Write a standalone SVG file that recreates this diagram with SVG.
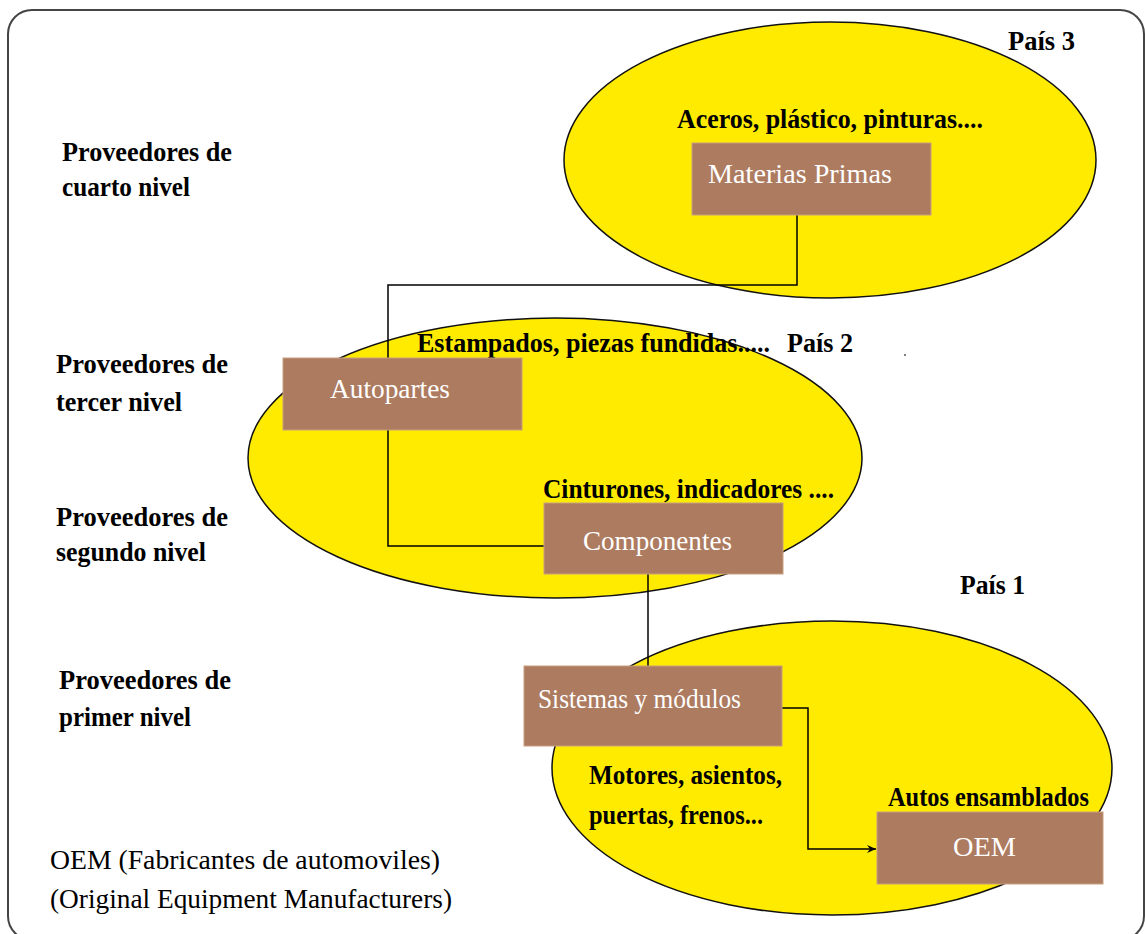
<svg xmlns="http://www.w3.org/2000/svg" width="1145" height="934" viewBox="0 0 1145 934">
<style>
.ell{fill:#FFEB00;stroke:#111;stroke-width:1.5}
.box{fill:#AD7B60;stroke:#C9A080;stroke-width:1}
.bt{font-family:"Liberation Serif",serif;font-size:27px;fill:#fff}
.cap{font-family:"Liberation Serif",serif;font-size:27px;font-weight:bold;fill:#000}
.lab{font-family:"Liberation Serif",serif;font-size:27px;fill:#000;font-weight:bold}
.reg{font-weight:normal}
.con{fill:none;stroke:#000;stroke-width:1.5}
</style>
<defs>
<marker id="arr" markerWidth="10" markerHeight="8" refX="9" refY="4" orient="auto" markerUnits="userSpaceOnUse">
<path d="M0,0 L9,4 L0,8 L3,4 Z" fill="#000"/>
</marker>
</defs>
<rect x="0" y="0" width="1145" height="934" fill="#fff"/>
<rect x="8" y="10" width="1136" height="930" rx="24" fill="none" stroke="#444" stroke-width="2"/>

<g id="pais3">
<ellipse class="ell" cx="830" cy="160" rx="266" ry="138"/>
<text class="cap" x="1008" y="50" textLength="67" lengthAdjust="spacingAndGlyphs">País 3</text>
<text class="cap" x="677" y="128" textLength="306" lengthAdjust="spacingAndGlyphs">Aceros, plástico, pinturas....</text>
</g>
<g id="pais2">
<ellipse class="ell" cx="555" cy="458" rx="307" ry="140"/>
<text class="cap" x="417" y="352" textLength="353" lengthAdjust="spacingAndGlyphs">Estampados, piezas fundidas.....</text>
<text class="cap" x="787" y="352" textLength="66" lengthAdjust="spacingAndGlyphs">País 2</text>
<text class="cap" x="543" y="498" textLength="291" lengthAdjust="spacingAndGlyphs">Cinturones, indicadores ....</text>
</g>
<g id="pais1">
<ellipse class="ell" cx="832" cy="768" rx="280" ry="147"/>
<text class="cap" x="960" y="594" textLength="65" lengthAdjust="spacingAndGlyphs">País 1</text>
<text class="cap" x="589" y="784" textLength="193" lengthAdjust="spacingAndGlyphs">Motores, asientos,</text>
<text class="cap" x="589" y="824" textLength="174" lengthAdjust="spacingAndGlyphs">puertas, frenos...</text>
<text class="cap" x="888" y="806" textLength="201" lengthAdjust="spacingAndGlyphs">Autos ensamblados</text>
</g>

<g id="connectors">
<polyline class="con" points="797,215 797,285 388,285 388,546 544,546"/>
<line class="con" x1="648" y1="574" x2="648" y2="666"/>
<polyline class="con" points="782,708 808,708 808,849 876,849" marker-end="url(#arr)"/>
</g>

<g id="materias-primas">
<rect class="box" x="692" y="143" width="239" height="72"/>
<text class="bt" x="708" y="183" textLength="184" lengthAdjust="spacingAndGlyphs">Materias Primas</text>
</g>
<g id="autopartes">
<rect class="box" x="283" y="358" width="239" height="72"/>
<text class="bt" x="330" y="398" textLength="120" lengthAdjust="spacingAndGlyphs">Autopartes</text>
</g>
<g id="componentes">
<rect class="box" x="544" y="503" width="239" height="71"/>
<text class="bt" x="583" y="550" textLength="149" lengthAdjust="spacingAndGlyphs">Componentes</text>
</g>
<g id="sistemas">
<rect class="box" x="524" y="666" width="258" height="80"/>
<text class="bt" x="538" y="708" textLength="203" lengthAdjust="spacingAndGlyphs">Sistemas y módulos</text>
</g>
<g id="oem">
<rect class="box" x="877" y="812" width="226" height="72"/>
<text class="bt" x="953" y="856" textLength="63" lengthAdjust="spacingAndGlyphs">OEM</text>
</g>

<g id="labels">
<text class="lab" x="62" y="161" textLength="170" lengthAdjust="spacingAndGlyphs">Proveedores de</text>
<text class="lab" x="62" y="196" textLength="128" lengthAdjust="spacingAndGlyphs">cuarto nivel</text>
<text class="lab" x="56" y="373" textLength="172" lengthAdjust="spacingAndGlyphs">Proveedores de</text>
<text class="lab" x="56" y="411" textLength="126" lengthAdjust="spacingAndGlyphs">tercer nivel</text>
<text class="lab" x="56" y="526" textLength="172" lengthAdjust="spacingAndGlyphs">Proveedores de</text>
<text class="lab" x="56" y="561" textLength="150" lengthAdjust="spacingAndGlyphs">segundo nivel</text>
<text class="lab" x="59" y="689" textLength="172" lengthAdjust="spacingAndGlyphs">Proveedores de</text>
<text class="lab" x="59" y="726" textLength="132" lengthAdjust="spacingAndGlyphs">primer nivel</text>
<text class="lab reg" x="50" y="869" textLength="390" lengthAdjust="spacingAndGlyphs">OEM (Fabricantes de automoviles)</text>
<text class="lab reg" x="50" y="908" textLength="402" lengthAdjust="spacingAndGlyphs">(Original Equipment Manufacturers)</text>
</g>
<circle cx="905" cy="355" r="1" fill="#555"/>
</svg>
